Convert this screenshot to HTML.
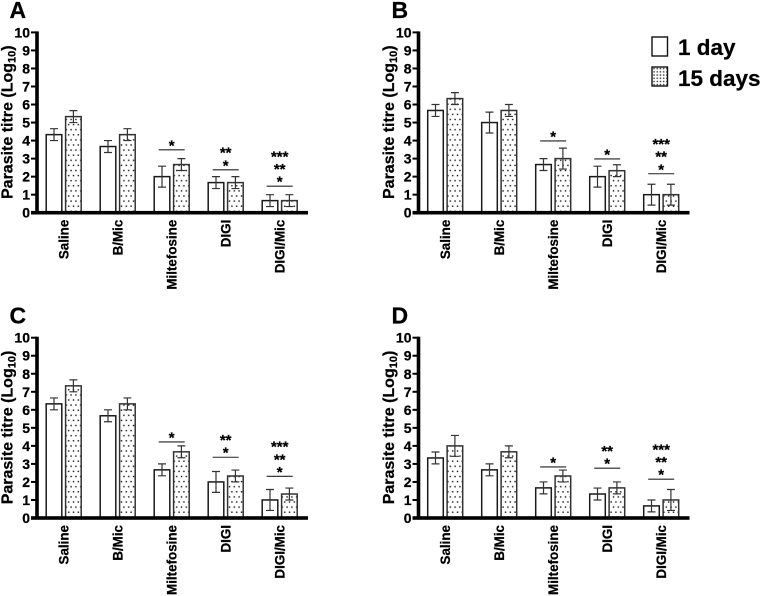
<!DOCTYPE html>
<html lang="en">
<head>
<meta charset="utf-8">
<title>Parasite titre by treatment</title>
<style>
html,body{margin:0;padding:0;background:#fff;width:762px;height:596px;overflow:hidden}
svg{display:block;font-family:"Liberation Sans",Arial,sans-serif;font-weight:bold;fill:#000}
text{stroke:#000;stroke-width:.25}
</style>
</head>
<body>
<svg id="chart" width="762" height="596" viewBox="0 0 762 596" xmlns="http://www.w3.org/2000/svg">
  <defs>
    <pattern id="dots" width="4.8" height="10.2" patternUnits="userSpaceOnUse">
      <rect x="0.8" y="1.5" width="1.4" height="1.4" fill="#111"></rect>
      <rect x="3.2" y="6.6" width="1.4" height="1.4" fill="#111"></rect>
    </pattern>
    <pattern id="legend-dots" width="3.2" height="3.2" patternUnits="userSpaceOnUse">
      <rect x="0.6" y="0.8" width="1.4" height="1.3" fill="#222"></rect>
    </pattern>
  </defs>
  <g>
    <rect x="652" y="37" width="15.5" height="19" fill="#fff" stroke="#111" stroke-width="1.4"></rect>
    <text x="678" y="55" font-size="22.5">1 day</text>
    <rect x="652" y="67" width="15.5" height="19" fill="url(#legend-dots)" stroke="#111" stroke-width="1.4"></rect>
    <text x="678" y="86" font-size="22.5">15 days</text>
  </g>
</svg>
<script>
const categories = ["Saline", "B/Mic", "Miltefosine", "DIGI", "DIGI/Mic"];
const tickLabels = [0, 1, 2, 3, 4, 5, 6, 7, 8, 9, 10];
const panelLetters = ["A", "B", "C", "D"];

const day1A = [4.33, 3.67, 2, 1.67, 0.67];
const day15A = [5.33, 4.33, 2.67, 1.67, 0.67];
const errDay1A = [0.33, 0.33, 0.58, 0.33, 0.33];
const errDay15A = [0.33, 0.33, 0.33, 0.33, 0.33];
const sigLevelA = [0, 0, 3.49, 2.38, 1.47];

const day1B = [5.67, 5, 2.67, 2, 1];
const day15B = [6.33, 5.67, 3, 2.33, 1];
const errDay1B = [0.33, 0.58, 0.33, 0.58, 0.58];
const errDay15B = [0.33, 0.33, 0.58, 0.33, 0.58];
const sigLevelB = [0, 0, 3.98, 2.98, 2.16];

const day1C = [6.33, 5.67, 2.67, 2, 1];
const day15C = [7.33, 6.33, 3.67, 2.33, 1.33];
const errDay1C = [0.33, 0.33, 0.33, 0.58, 0.58];
const errDay15C = [0.33, 0.33, 0.33, 0.33, 0.33];
const sigLevelC = [0, 0, 4.22, 3.37, 2.31];

const day1D = [3.33, 2.67, 1.67, 1.33, 0.67];
const day15D = [4, 3.67, 2.33, 1.67, 1];
const errDay1D = [0.33, 0.33, 0.33, 0.33, 0.33];
const errDay15D = [0.58, 0.33, 0.33, 0.33, 0.58];
const sigLevelD = [0, 0, 2.83, 2.76, 2.15];

const sigStarsA = [[], [], ["*"], ["*", "**"], ["*", "**", "***"]];
const sigStarsB = [[], [], ["*"], ["*"], ["*", "**", "***"]];
const sigStarsC = [[], [], ["*"], ["*", "**"], ["*", "**", "***"]];
const sigStarsD = [[], [], ["*"], ["*", "**"], ["*", "**", "***"]];

const day1Series = [day1A, day1B, day1C, day1D];
const day15Series = [day15A, day15B, day15C, day15D];
const errDay1Series = [errDay1A, errDay1B, errDay1C, errDay1D];
const errDay15Series = [errDay15A, errDay15B, errDay15C, errDay15D];
const sigSeries = [sigLevelA, sigLevelB, sigLevelC, sigLevelD];
const starSeries = [sigStarsA, sigStarsB, sigStarsC, sigStarsD];

const NS = "http://www.w3.org/2000/svg";
const chart = document.getElementById("chart");

function make(parent, tag, attrs, text) {
  const el = document.createElementNS(NS, tag);
  for (const k in attrs) el.setAttribute(k, attrs[k]);
  if (text !== undefined) el.textContent = text;
  parent.appendChild(el);
  return el;
}

function drawPanel(p) {
  const col = p % 2, row = Math.floor(p / 2);
  const axisX = col === 0 ? 37 : 418.5;
  const baseY = row === 0 ? 212.7 : 518;
  const yScale = v => baseY - v * 18.03;
  const xScale = (c, s) => axisX + 9.2 + c * 54 + s * 19.4;
  const barW = 15.6;

  const g = make(chart, "g", {});
  
  

  const letter = make(g, "text", {x: axisX - (col === 0 ? 27.5 : 27), y: baseY - 194.5, "font-size": 23}, panelLetters[p]);
  
  

  const title = make(g, "text", {
    transform: "translate(" + (axisX - 24.5) + " " + (baseY - 13.7) + ") rotate(-90)",
    "font-size": 16
  });
  
  
  make(title, "tspan", {}, "Parasite titre (Log");
  make(title, "tspan", {"font-size": 11, dy: 3}, "10");
  make(title, "tspan", {dy: -3}, ")");

  tickLabels.forEach(t => {
    const tick = make(g, "rect", {x: axisX - 6, y: yScale(t) - 1, width: 6, height: 2, fill: "#000"});
    
    
    const lab = make(g, "text", {x: axisX - 7, y: yScale(t) + 5, "text-anchor": "end", "font-size": 14}, String(t));
    
    
  });

  categories.forEach((cat, c) => {
    [[day1Series[p], errDay1Series[p], "#fff", "#1a1a1a"],
     [day15Series[p], errDay15Series[p], "url(#dots)", "#333"]].forEach((sr, s) => {
      const v = sr[0][c], e = sr[1][c];
      const x = xScale(c, s), top = yScale(v);
      const bar = make(g, "rect", {x: x, y: top, width: barW, height: baseY - top, fill: sr[2], stroke: sr[3], "stroke-width": 1.5});
      
      
      const cx = x + barW / 2, hi = yScale(v + e), lo = yScale(v - e);
      const err = make(g, "path", {
        d: "M" + (cx - 4) + " " + hi + "H" + (cx + 4) + "M" + cx + " " + hi + "V" + lo + "M" + (cx - 4) + " " + lo + "H" + (cx + 4),
        fill: "none", stroke: "#333", "stroke-width": 1.2
      });
      
      
    });

    const label = make(g, "text", {
      transform: "translate(" + (xScale(c, 0) + 22.5) + " " + (baseY + 7) + ") rotate(-90)",
      "text-anchor": "end", "font-size": 13.4
    }, cat);
    
    

    const stars = starSeries[p][c];
    if (stars.length) {
      const ly = yScale(sigSeries[p][c]);
      const mid = xScale(c, 0) + 17.5;
      const line = make(g, "line", {x1: mid - 13, x2: mid + 13, y1: ly, y2: ly, stroke: "#222", "stroke-width": 1.1});
      
      
      stars.forEach((st, k) => {
        const star = make(g, "text", {x: mid, y: ly + 0.5 - k * 12.6, "text-anchor": "middle", "font-size": 15}, st);
        
        
      });
    }
  });

  const yAxis = make(g, "rect", {x: axisX - 1.8, y: yScale(10) - 1, width: 3.6, height: baseY - yScale(10) + 2, fill: "#000"});
  
  
  const xAxis = make(g, "rect", {x: axisX - 6, y: baseY - 1.8, width: 277, height: 3.6, fill: "#000"});
  
  
}

panelLetters.forEach((_, p) => drawPanel(p));
</script>
</body>
</html>
